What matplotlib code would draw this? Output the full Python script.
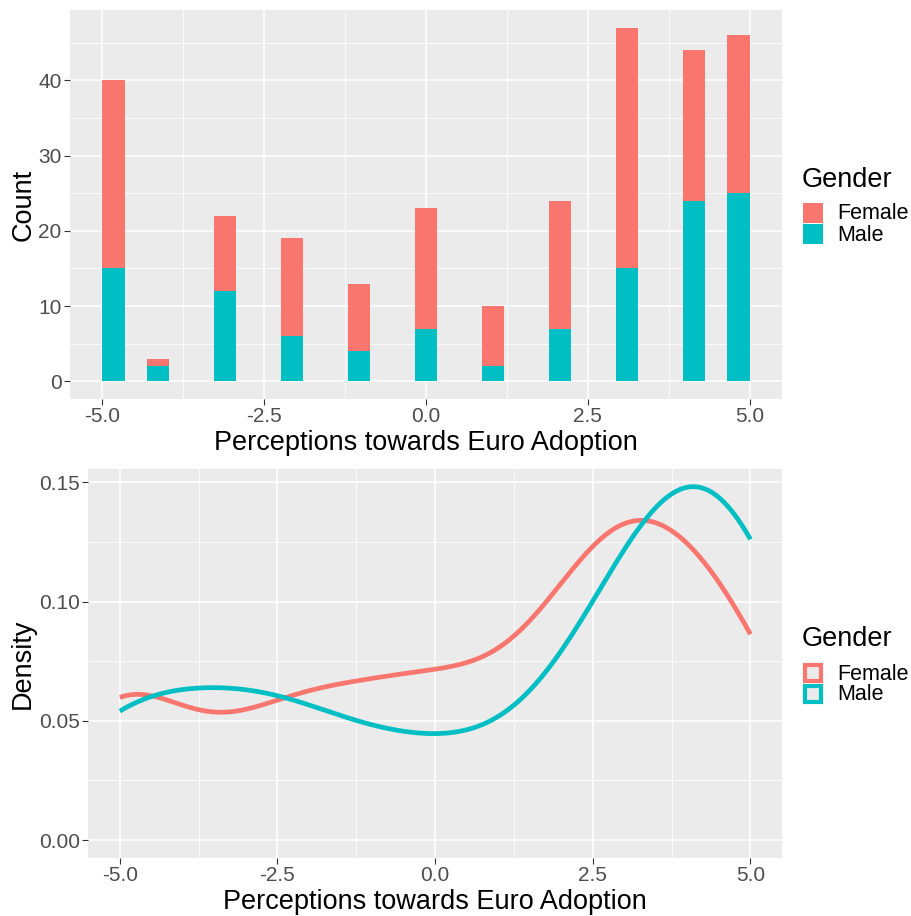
import matplotlib
matplotlib.use("Agg")
import numpy as np
import matplotlib.pyplot as plt
from matplotlib.patches import Rectangle

# responses on the -5..5 scale and how many of each gender gave them
scores = [-5, -4, -3, -2, -1, 0, 1, 2, 3, 4, 5]
female_counts = [25, 1, 10, 13, 9, 16, 8, 17, 32, 20, 21]
male_counts = [15, 2, 12, 6, 4, 7, 2, 7, 15, 24, 25]
groups = ["Female", "Male"]

FEMALE = "#F8766D"
MALE = "#00BFC4"
PANEL = "#EBEBEB"
TICK_TXT = "#4D4D4D"

plt.rcParams["font.family"] = ["Liberation Sans", "DejaVu Sans"]

W, H = 911, 916
fig = plt.figure(figsize=(W / 100, H / 100), dpi=100)


def px_axes(left, top, right, bottom):
    return fig.add_axes([left / W, 1 - bottom / H, (right - left) / W, (bottom - top) / H])


def gg_style(ax, xmajor, xminor, ymajor, yminor):
    ax.set_facecolor(PANEL)
    for s in ax.spines.values():
        s.set_visible(False)
    ax.set_xticks(xmajor)
    ax.set_xticks(xminor, minor=True)
    ax.set_yticks(ymajor)
    ax.set_yticks(yminor, minor=True)
    ax.grid(which="major", color="white", linewidth=1.1)
    ax.grid(which="minor", color="white", linewidth=0.55)
    ax.set_axisbelow(True)
    ax.tick_params(which="major", length=4, width=0.8, color="#333333",
                   labelsize=15, labelcolor=TICK_TXT, pad=2)
    ax.tick_params(which="minor", length=0)


def nrd0(x):
    sd = np.std(x, ddof=1)
    q75, q25 = np.percentile(x, [75, 25])
    return 0.9 * min(sd, (q75 - q25) / 1.34) * len(x) ** -0.2


def kde(x, grid):
    bw = nrd0(x)
    z = (grid[:, None] - x[None, :]) / bw
    return np.exp(-0.5 * z ** 2).sum(axis=1) / (len(x) * bw * np.sqrt(2 * np.pi))


female = np.repeat(scores, female_counts).astype(float)
male = np.repeat(scores, male_counts).astype(float)

xmaj = [-5, -2.5, 0, 2.5, 5]
xmin = [-3.75, -1.25, 1.25, 3.75]

# ---- top: stacked histogram
ax1 = px_axes(70, 10, 782, 399)
bins = np.linspace(min(scores), max(scores), 30)
ax1.hist([male, female], bins=bins, stacked=True, color=[MALE, FEMALE],
         rwidth=1.0, linewidth=0)
gg_style(ax1, xmaj, xmin, [0, 10, 20, 30, 40], [5, 15, 25, 35, 45])
top = max(np.array(female_counts) + np.array(male_counts))
ax1.set_xlim(-5.5, 5.5)
ax1.set_ylim(-0.05 * top, 1.05 * top)
ax1.set_xticklabels(["-5.0", "-2.5", "0.0", "2.5", "5.0"])
ax1.set_xlabel("Perceptions towards Euro Adoption", fontsize=19.5, labelpad=3)
ax1.set_ylabel("Count", fontsize=19.5, labelpad=1)

# ---- bottom: density curves
ax2 = px_axes(88.3, 469, 782, 857.7)
grid = np.linspace(min(scores), max(scores), 512)
dens_f = kde(female, grid)
dens_m = kde(male, grid)
ax2.plot(grid, dens_f, color=FEMALE, linewidth=3.4, solid_capstyle="butt")
ax2.plot(grid, dens_m, color=MALE, linewidth=3.4, solid_capstyle="butt")
gg_style(ax2, xmaj, xmin, [0, 0.05, 0.10, 0.15], [0.025, 0.075, 0.125])
dmax = max(dens_f.max(), dens_m.max())
ax2.set_xlim(-5.5, 5.5)
ax2.set_ylim(-0.05 * dmax, 1.05 * dmax)
ax2.set_xticklabels(["-5.0", "-2.5", "0.0", "2.5", "5.0"])
ax2.set_yticklabels(["0.00", "0.05", "0.10", "0.15"])
ax2.set_xlabel("Perceptions towards Euro Adoption", fontsize=19.5, labelpad=3)
ax2.set_ylabel("Density", fontsize=19.5, labelpad=2)


# ---- legends, drawn in pixel positions like ggplot's guide boxes
def legend(title_y, key_top, filled):
    fig.text(802 / W, 1 - title_y / H, "Gender", fontsize=19.5, va="center", ha="left")
    for i, (g, c) in enumerate(zip(groups, [FEMALE, MALE])):
        y0 = key_top + i * 21
        if filled:
            r = Rectangle((803 / W, 1 - (y0 + 20) / H), 20 / W, 20 / H,
                          transform=fig.transFigure, facecolor=c, edgecolor="none")
        else:
            r = Rectangle((805 / W, 1 - (y0 + 18) / H), 16 / W, 16 / H,
                          transform=fig.transFigure, facecolor=PANEL, edgecolor=c,
                          linewidth=3.0)
        fig.add_artist(r)
        fig.text(837 / W, 1 - (y0 + 11) / H, g, fontsize=15.5, va="center", ha="left")


legend(180, 203, True)
legend(639, 663, False)

fig.savefig("out.png", dpi=100, facecolor="white")
